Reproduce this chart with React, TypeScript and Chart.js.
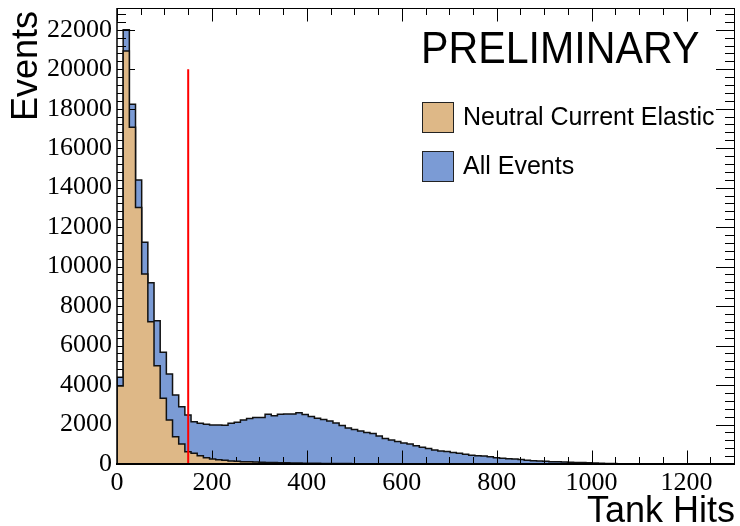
import React, { useEffect, useRef } from "react";
import { Chart, registerables } from "chart.js";

Chart.register(...registerables);

// ---------------- data ----------------
const BIN_WIDTH = 13; // Tank Hits per bin
const X_MIN = 0;
const X_MAX = 1300;
const Y_MIN = 0;
const Y_MAX = 23100;

// All Events, 100 bins of 13 hits starting at 0
const allEvents = [
  4390, 22000, 18220, 14390, 11230, 9180, 7260, 5660, 4560, 3500,
  2900, 2480, 2140, 2060, 2010, 1980, 1980, 1960, 2060, 2110,
  2230, 2310, 2350, 2350, 2520, 2450, 2520, 2530, 2530, 2600,
  2510, 2410, 2320, 2250, 2180, 2080, 1950, 1830, 1750, 1670,
  1600, 1540, 1420, 1290, 1210, 1140, 1060, 1010, 920, 850,
  790, 710, 660, 630, 580, 550, 500, 440, 420, 400,
  370, 320, 290, 270, 250, 230, 190, 170, 150, 140,
  120, 110, 100, 90, 80, 70, 60, 50, 40, 30,
  20, 15, 10, 8, 5, 4, 3, 2, 1, 0,
  0, 0, 0, 0, 0, 0, 0, 0, 0, 0,
];

// Neutral Current Elastic, same binning
const nceEvents = [
  3950, 20920, 17060, 13000, 9630, 7210, 4980, 3330, 2230, 1380,
  1010, 620, 540, 420, 320, 250, 220, 190, 150, 140,
  120, 108, 97, 88, 80, 72, 65, 58, 52, 47,
  42, 38, 34, 30, 27, 24, 21, 19, 17, 15,
  13, 11, 10, 9, 8, 7, 6, 5, 4, 3,
  3, 2, 2, 1, 1, 1, 0, 0, 0, 0,
  0, 0, 0, 0, 0, 0, 0, 0, 0, 0,
  0, 0, 0, 0, 0, 0, 0, 0, 0, 0,
  0, 0, 0, 0, 0, 0, 0, 0, 0, 0,
  0, 0, 0, 0, 0, 0, 0, 0, 0, 0,
];

const cutValue = 150;
const cutHeight = 20000;

const xTickValues = [0, 200, 400, 600, 800, 1000, 1200];
const yTickValues = [0, 2000, 4000, 6000, 8000, 10000, 12000, 14000, 16000, 18000, 20000, 22000];
const X_MINOR_STEP = 50;
const Y_MINOR_STEP = 400;

const seriesLabels = ["Neutral Current Elastic", "All Events"];
const xTitle = "Tank Hits";
const yTitle = "Events";
const stampText = "PRELIMINARY";

// ---------------- styles ----------------
const TAN = "#DEB887";
const BLUE = "#7B9BD5";
const SANS = '"Liberation Sans", Arial, Helvetica, sans-serif';
const SERIF = '"Liberation Serif", "Times New Roman", serif';

function toSteps(vals: number[]) {
  const pts: { x: number; y: number }[] = [{ x: X_MIN, y: 0 }];
  vals.forEach((v, i) => pts.push({ x: X_MIN + i * BIN_WIDTH, y: v }));
  pts.push({ x: X_MIN + vals.length * BIN_WIDTH, y: 0 });
  return pts;
}

const rootPlugin = {
  id: "rootStyle",
  afterDatasetDraw(chart: any, args: any) {
    // axis ticks are painted after the first (All Events) histogram, under the NCE one
    if (args.index !== 2) return;
    const { ctx, chartArea, scales } = chart;
    const { left, right, top, bottom } = chartArea;
    ctx.save();
    ctx.strokeStyle = "#000";
    ctx.lineWidth = 1;
    ctx.beginPath();
    for (let v = X_MIN; v <= X_MAX + 1e-6; v += X_MINOR_STEP) {
      const px = Math.round(scales.x.getPixelForValue(v)) + 0.5;
      const len = v % 200 === 0 ? 13.5 : 7;
      ctx.moveTo(px, bottom);
      ctx.lineTo(px, bottom - len);
      ctx.moveTo(px, top);
      ctx.lineTo(px, top + len);
    }
    for (let v = Y_MIN; v <= Y_MAX + 1e-6; v += Y_MINOR_STEP) {
      const py = Math.round(scales.y.getPixelForValue(v)) + 0.5;
      const len = v % 2000 === 0 ? 18 : 9;
      ctx.moveTo(left, py);
      ctx.lineTo(left + len, py);
      ctx.moveTo(right, py);
      ctx.lineTo(right - len, py);
    }
    ctx.stroke();
    ctx.restore();
  },
  afterDatasetsDraw(chart: any) {
    const { ctx, chartArea } = chart;
    const { left, right, top, bottom } = chartArea;
    ctx.save();
    ctx.strokeStyle = "#000";
    ctx.lineWidth = 1;
    ctx.beginPath();
    ctx.moveTo(left, top + 0.5);
    ctx.lineTo(right + 0.5, top + 0.5);
    ctx.lineTo(right + 0.5, bottom);
    ctx.stroke();
    ctx.lineWidth = 1.5;
    ctx.beginPath();
    ctx.moveTo(left, top);
    ctx.lineTo(left, bottom);
    ctx.stroke();
    ctx.lineWidth = 2;
    ctx.beginPath();
    ctx.moveTo(left - 1, bottom);
    ctx.lineTo(right + 1, bottom);
    ctx.stroke();
    ctx.restore();
  },
  afterDraw(chart: any) {
    const { ctx, chartArea } = chart;
    const { right, top, bottom } = chartArea;
    ctx.save();
    ctx.fillStyle = "#000";

    // PRELIMINARY stamp
    ctx.save();
    ctx.font = `45px ${SANS}`;
    ctx.textAlign = "left";
    ctx.textBaseline = "alphabetic";
    ctx.translate(421, 63);
    ctx.scale(0.915, 1);
    ctx.fillText(stampText, 0, 0);
    ctx.restore();

    // legend
    const entries = [
      { label: seriesLabels[0], color: TAN, y: 102 },
      { label: seriesLabels[1], color: BLUE, y: 151 },
    ];
    ctx.font = `25px ${SANS}`;
    ctx.textBaseline = "middle";
    ctx.textAlign = "left";
    entries.forEach((e) => {
      ctx.fillStyle = e.color;
      ctx.fillRect(422, e.y, 32, 31);
      ctx.strokeStyle = "#222";
      ctx.lineWidth = 1;
      ctx.strokeRect(422.5, e.y + 0.5, 31, 30);
      ctx.fillStyle = "#000";
      ctx.fillText(e.label, 463, e.y + 16);
    });

    // axis titles
    ctx.font = `36px ${SANS}`;
    ctx.textAlign = "right";
    ctx.textBaseline = "alphabetic";
    ctx.fillText(xTitle, right + 1, bottom + 58);

    ctx.save();
    ctx.translate(37, top + 3);
    ctx.rotate(-Math.PI / 2);
    ctx.textAlign = "right";
    ctx.fillText(yTitle, 0, 0);
    ctx.restore();

    ctx.restore();
  },
};

export default function App() {
  const ref = useRef<HTMLCanvasElement>(null);
  useEffect(() => {
    const chart = new Chart(ref.current as HTMLCanvasElement, {
      type: "line",
      data: {
        datasets: [
          {
            label: "cut",
            data: [
              { x: cutValue, y: 0 },
              { x: cutValue, y: cutHeight },
            ],
            borderColor: "#ff0000",
            borderWidth: 2,
            fill: false,
            pointRadius: 0,
            order: 0,
          } as any,
          {
            label: seriesLabels[0],
            data: toSteps(nceEvents),
            stepped: true,
            backgroundColor: TAN,
            borderColor: "#111",
            borderWidth: 1.5,
            fill: "origin",
            pointRadius: 0,
            order: 1,
          },
          {
            label: seriesLabels[1],
            data: toSteps(allEvents),
            stepped: true,
            backgroundColor: BLUE,
            borderColor: "#111",
            borderWidth: 1.5,
            fill: "origin",
            pointRadius: 0,
            order: 2,
          },
        ],
      },
      options: {
        animation: false,
        responsive: true,
        maintainAspectRatio: false,
        layout: { padding: { left: 0, right: 6, top: 8, bottom: 0 } },
        plugins: {
          legend: { display: false },
          tooltip: { enabled: false },
          title: { display: false },
        },
        elements: { point: { radius: 0 }, line: { tension: 0 } },
        scales: {
          x: {
            type: "linear",
            min: X_MIN,
            max: X_MAX,
            grid: { display: false, drawTicks: false },
            border: { display: false },
            afterFit: (s: any) => {
              s.height = 62;
              s.paddingLeft = 0;
              s.paddingRight = 0;
            },
            afterBuildTicks: (s: any) => {
              s.ticks = xTickValues.map((v) => ({ value: v }));
            },
            ticks: {
              color: "#000",
              font: { family: SERIF, size: 26 },
              padding: 4,
              maxRotation: 0,
              autoSkip: false,
              callback: (v: any) => String(v),
            },
          },
          y: {
            type: "linear",
            min: Y_MIN,
            max: Y_MAX,
            grid: { display: false, drawTicks: false },
            border: { display: false },
            afterFit: (s: any) => {
              s.width = 117;
              s.paddingTop = 0;
              s.paddingBottom = 0;
            },
            afterBuildTicks: (s: any) => {
              s.ticks = yTickValues.map((v) => ({ value: v }));
            },
            ticks: {
              color: "#000",
              font: { family: SERIF, size: 26 },
              padding: 5,
              autoSkip: false,
              callback: (v: any) => String(v),
            },
          },
        },
      },
      plugins: [rootPlugin],
    } as any);
    return () => chart.destroy();
  }, []);
  return (
    <div style={{ position: "fixed", left: 0, top: 0, width: 740, height: 526, background: "#fff" }}>
      <canvas ref={ref} />
    </div>
  );
}
